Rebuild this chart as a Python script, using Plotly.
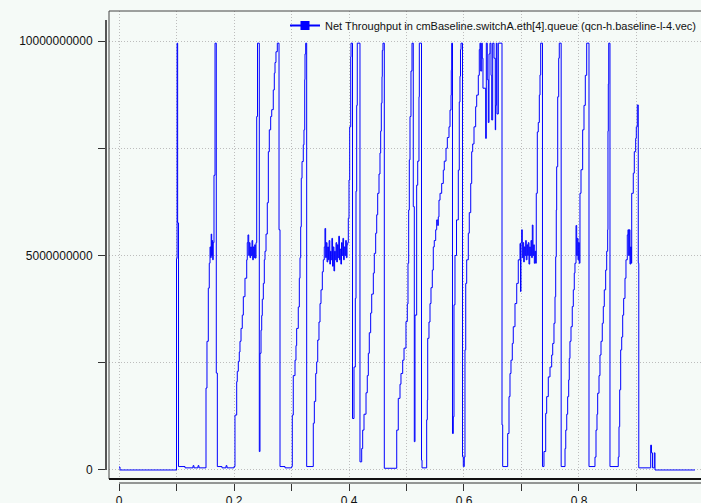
import plotly.graph_objects as go

# Net throughput samples of cmBaseline.switchA.eth[4].queue (time in s, rate in Gbit/s)
TIME_S = [
    0.0000, 0.0017, 0.1000, 0.1010, 0.1020, 0.1035,
    0.1148, 0.1287, 0.1304, 0.1374, 0.1391,
    # burst 2
    0.1513, 0.1530, 0.1553, 0.1570, 0.1583, 0.1595, 0.1603, 0.1612, 0.1621, 0.1630,
    0.1638, 0.1652, 0.1670, 0.1692, 0.1710,
    0.1791, 0.1861, 0.1878, 0.2000,
    # burst 3
    0.2017, 0.2047, 0.2057, 0.2075, 0.2092, 0.2104, 0.2122, 0.2144, 0.2162, 0.2191,
    0.2221, 0.2231, 0.2243, 0.2256, 0.2266, 0.2278, 0.2290, 0.2301, 0.2313, 0.2325,
    0.2336, 0.2348, 0.2360, 0.2370, 0.2383, 0.2395, 0.2409, 0.2440, 0.2452, 0.2470,
    0.2482, 0.2492, 0.2510, 0.2527, 0.2539, 0.2557, 0.2579, 0.2597, 0.2614, 0.2638,
    0.2656, 0.2683, 0.2701, 0.2713, 0.2730, 0.2753, 0.2783, 0.2800,
    0.2887, 0.3003,
    # burst 4
    0.3014, 0.3031, 0.3061, 0.3078, 0.3090, 0.3118, 0.3136, 0.3148, 0.3160, 0.3170,
    0.3183, 0.3205, 0.3217, 0.3230, 0.3235, 0.3247, 0.3264,
    # burst 5
    0.3379, 0.3397, 0.3421, 0.3438, 0.3456, 0.3478, 0.3496, 0.3513, 0.3536, 0.3553,
    0.3570, 0.3582, 0.3594, 0.3606, 0.3618, 0.3630, 0.3642, 0.3654, 0.3666, 0.3678,
    0.3690, 0.3702, 0.3714, 0.3726, 0.3738, 0.3750, 0.3762, 0.3774, 0.3786, 0.3798,
    0.3810, 0.3822, 0.3834, 0.3846, 0.3858, 0.3870, 0.3882, 0.3894, 0.3906, 0.3918,
    0.3930, 0.3942, 0.3954, 0.3966, 0.3978,
    0.3988, 0.4000, 0.4012, 0.4030, 0.4035, 0.4061, 0.4087, 0.4110, 0.4122, 0.4134,
    0.4144, 0.4191,
    # burst 6
    0.4221, 0.4238, 0.4261, 0.4296, 0.4318, 0.4336, 0.4353, 0.4377, 0.4395, 0.4423,
    0.4440, 0.4464, 0.4482, 0.4499, 0.4522, 0.4539, 0.4551, 0.4562, 0.4574, 0.4579,
    0.4591, 0.4614, 0.4713,
    # burst 7
    0.4830, 0.4857, 0.4887, 0.4904, 0.4934, 0.4957, 0.4991, 0.5014, 0.5026, 0.5038,
    0.5049, 0.5061, 0.5078, 0.5096, 0.5118, 0.5136, 0.5148, 0.5177, 0.5195, 0.5217,
    0.5223, 0.5261, 0.5270,
    # burst 8
    0.5351, 0.5362, 0.5369, 0.5391, 0.5409, 0.5426, 0.5449, 0.5466, 0.5483, 0.5508,
    0.5525, 0.5543, 0.5553, 0.5565, 0.5583, 0.5612, 0.5640, 0.5657, 0.5687, 0.5710,
    0.5739, 0.5757, 0.5774, 0.5779, 0.5786, 0.5800, 0.5814, 0.5826, 0.5843, 0.5870,
    0.5901, 0.5918, 0.5930, 0.5939, 0.5948, 0.5974, 0.5988,
    # burst 9
    0.6005, 0.6017, 0.6030, 0.6047, 0.6075, 0.6092, 0.6117, 0.6134, 0.6151, 0.6174,
    0.6203, 0.6221, 0.6249, 0.6266, 0.6278, 0.6290, 0.6308, 0.6318, 0.6330, 0.6377,
    0.6388, 0.6405, 0.6423, 0.6435, 0.6452, 0.6470, 0.6482, 0.6499, 0.6522, 0.6544,
    0.6551, 0.6562, 0.6574, 0.6597, 0.6661, 0.6673,
    # burst 10
    0.6760, 0.6783, 0.6800, 0.6817, 0.6840, 0.6857, 0.6887, 0.6917, 0.6944, 0.6974,
    0.6983, 0.6991, 0.7003, 0.7014, 0.7026, 0.7038, 0.7049, 0.7061, 0.7073, 0.7083,
    0.7096, 0.7108, 0.7118, 0.7130, 0.7143, 0.7153, 0.7165, 0.7177, 0.7188, 0.7200,
    0.7212, 0.7223, 0.7235, 0.7247, 0.7257, 0.7275, 0.7292, 0.7310, 0.7322, 0.7334,
    0.7365,
    # burst 11
    0.7391, 0.7421, 0.7438, 0.7466, 0.7496, 0.7525, 0.7543, 0.7565, 0.7583, 0.7595,
    0.7605, 0.7612, 0.7630, 0.7647, 0.7657, 0.7690,
    # burst 12
    0.7757, 0.7770, 0.7787, 0.7803, 0.7821, 0.7831, 0.7843, 0.7861, 0.7883, 0.7901,
    0.7918, 0.7930, 0.7948, 0.7960, 0.7970, 0.7983, 0.7995, 0.8005, 0.8017, 0.8035,
    0.8064, 0.8087, 0.8110, 0.8134, 0.8174,
    # burst 13
    0.8278, 0.8296, 0.8313, 0.8325, 0.8348, 0.8365, 0.8383, 0.8405, 0.8423, 0.8440,
    0.8464, 0.8482, 0.8499, 0.8504, 0.8510, 0.8517, 0.8539,
    # burst 14 and tail
    0.8683, 0.8696, 0.8708, 0.8725, 0.8743, 0.8760, 0.8777, 0.8800, 0.8817, 0.8840,
    0.8852, 0.8864, 0.8875, 0.8887, 0.8899, 0.8910, 0.8917, 0.8944, 0.8962, 0.8986,
    0.8997, 0.9014, 0.9031, 0.9040, 0.9247, 0.9261, 0.9278, 0.9310, 0.9322, 1.0017,
]

RATE_GBPS = [
    0.07, 0.00, 4.93, 9.95, 5.76, 0.08,
    0.05, 0.10, 0.05, 0.10, 0.05,
    # burst 2
    1.91, 3.00, 4.24, 4.82, 5.20, 4.95, 5.50, 5.00, 5.35, 4.90,
    5.30, 6.87, 9.95, 2.26, 0.08,
    0.05, 0.10, 0.05, 0.08,
    # burst 3
    1.28, 2.06, 2.30, 2.53, 2.75, 3.00, 3.30, 3.61, 4.04, 4.47,
    4.90, 5.30, 5.48, 5.00, 5.30, 4.95, 5.20, 5.00, 5.35, 4.90,
    5.20, 4.95, 5.25, 4.94, 5.30, 8.24, 9.95, 0.43, 2.72, 3.26,
    3.60, 3.98, 4.35, 4.90, 5.10, 5.50, 6.23, 7.42, 7.93, 8.24,
    8.40, 8.86, 9.25, 9.50, 9.75, 9.95, 5.60, 0.08,
    0.05, 0.08,
    # burst 4
    1.28, 2.20, 2.56, 2.90, 3.30, 3.80, 4.47, 4.95, 5.67, 6.80,
    7.19, 7.58, 7.93, 9.10, 9.70, 9.95, 0.08,
    # burst 5
    1.09, 1.60, 2.25, 2.52, 3.03, 3.45, 3.88, 4.20, 4.62, 4.90,
    5.20, 5.63, 4.95, 5.30, 4.85, 5.20, 4.90, 5.35, 4.80, 5.10,
    4.90, 5.40, 4.75, 5.20, 4.64, 5.10, 4.90, 5.30, 4.85, 5.25,
    4.95, 5.45, 4.90, 5.15, 4.80, 5.30, 5.00, 5.40, 4.90, 5.20,
    5.00, 5.35, 4.95, 5.25, 5.30,
    5.87, 6.76, 8.00, 9.63, 9.95, 1.20, 2.40, 4.00, 6.50, 8.50,
    9.95, 0.19,
    # burst 6
    0.50, 0.93, 1.30, 1.80, 2.20, 2.72, 3.20, 3.66, 4.10, 4.59,
    5.05, 5.52, 5.95, 6.45, 6.90, 7.39, 7.90, 8.55, 9.17, 9.78,
    9.95, 0.04, 0.04,
    # burst 7
    0.93, 1.67, 2.00, 2.25, 2.56, 2.84, 3.46, 3.87, 4.82, 6.06,
    7.23, 8.24, 9.30, 9.95, 6.14, 0.66, 3.61, 6.64, 7.20, 8.70,
    9.95, 0.23, 0.05,
    # burst 8
    1.17, 1.63, 3.07, 3.45, 3.88, 4.25, 4.66, 5.20, 5.35, 5.60,
    5.83, 5.70, 5.90, 6.29, 6.45, 6.68, 6.99, 7.20, 7.50, 7.75,
    8.00, 8.39, 8.74, 9.32, 9.95, 0.85, 1.24, 3.85, 5.00, 5.83,
    6.99, 8.58, 9.18, 9.80, 9.95, 0.31, 0.08,
    # burst 9
    0.30, 2.80, 4.35, 4.90, 5.52, 6.00, 6.68, 7.42, 7.60, 8.00,
    8.47, 8.74, 9.20, 9.80, 9.95, 9.30, 9.95, 9.60, 8.90, 7.73,
    9.95, 9.10, 8.10, 9.70, 9.95, 9.20, 8.16, 9.95, 9.60, 7.93,
    8.50, 9.95, 8.30, 9.95, 1.05, 0.08,
    # burst 10
    0.85, 1.71, 2.25, 2.56, 2.95, 3.34, 3.88, 4.35, 4.90, 5.28,
    4.16, 5.30, 5.60, 4.95, 5.30, 4.85, 5.20, 5.00, 5.35, 4.90,
    5.25, 5.00, 5.30, 4.80, 5.20, 5.00, 5.35, 4.95, 5.71, 5.00,
    5.25, 4.82, 5.10, 4.82, 6.45, 7.88, 8.10, 8.74, 9.21, 9.95,
    0.08,
    # burst 11
    0.43, 1.32, 1.71, 2.17, 2.40, 2.68, 2.95, 3.42, 4.04, 4.97,
    6.06, 7.07, 8.70, 9.60, 9.95, 0.08,
    # burst 12
    0.50, 0.93, 1.30, 1.71, 2.10, 2.60, 3.00, 3.34, 3.81, 4.20,
    4.59, 4.82, 5.70, 5.00, 5.40, 4.90, 5.30, 4.82, 6.45, 7.00,
    7.93, 8.50, 9.20, 9.95, 0.08,
    # burst 13
    0.30, 0.93, 1.30, 1.79, 2.20, 2.68, 3.00, 3.42, 3.81, 4.20,
    4.66, 5.10, 5.60, 7.90, 9.00, 9.95, 0.08,
    # burst 14 and tail
    0.30, 1.01, 1.87, 2.80, 3.10, 3.61, 4.00, 4.47, 4.90, 5.48,
    5.60, 5.00, 5.60, 4.80, 5.20, 4.82, 6.45, 6.92, 7.42, 7.73,
    8.00, 8.51, 4.82, 0.05, 0.58, 0.40, 0.05, 0.40, 0.00, 0.00,
]

assert len(TIME_S) == len(RATE_GBPS)

SERIES_NAME = "Net Throughput in cmBaseline.switchA.eth[4].queue (qcn-h.baseline-l-4.vec)"

X_TICKS = [0.0, 0.1, 0.2, 0.3, 0.4, 0.5, 0.6, 0.7, 0.8, 0.9]
X_TICK_TEXT = ["0", "", "0.2", "", "0.4", "", "0.6", "", "0.8", ""]
Y_TICKS = [0, 2.5e9, 5e9, 7.5e9, 1e10]
Y_TICK_TEXT = ["0", "", "5000000000", "", "10000000000"]

X_RANGE = [-0.0174, 1.0122]
Y_RANGE = [-0.21e9, 10.70e9]
Y_AXIS_TOP = 10.49e9

BG = "#f5faf7"
LINE_BLUE = "#0000ff"
GRID = "#bdbdbd"
FONT = "Liberation Sans, Arial, sans-serif"

W, H = 701, 503
ML, MR, MT, MB = 106, 0, 11, 20
X_DOM0 = 3 / (W - ML - MR)
Y_DOM0 = 4 / (H - MT - MB)

fig = go.Figure()

fig.add_trace(go.Scatter(
    x=TIME_S,
    y=[v * 1e9 for v in RATE_GBPS],
    mode="lines",
    line=dict(color=LINE_BLUE, width=1, shape="hv"),
    showlegend=False,
    hoverinfo="skip",
))

# legend entry (line with square marker)
fig.add_trace(go.Scatter(
    x=[None], y=[None],
    mode="lines+markers",
    name=SERIES_NAME,
    line=dict(color=LINE_BLUE, width=2),
    marker=dict(color=LINE_BLUE, symbol="square", size=9),
))

axis_common = dict(
    showline=False,
    zeroline=False,
    automargin=False,
    ticks="outside",
    tickcolor="#333333",
    tickwidth=1,
    showgrid=True,
    gridcolor=GRID,
    gridwidth=1,
    griddash="1px,2px",
    tickfont=dict(family=FONT, size=12, color="#111111"),
    tickmode="array",
)

fig.update_layout(
    width=W, height=H,
    margin=dict(l=ML, r=MR, t=MT, b=MB, pad=0, autoexpand=False),
    paper_bgcolor=BG,
    plot_bgcolor=BG,
    font=dict(family=FONT, size=11, color="#111111"),
    xaxis=dict(
        **axis_common,
        domain=[X_DOM0, 1],
        range=X_RANGE,
        tickvals=X_TICKS,
        ticktext=X_TICK_TEXT,
        ticklen=7,
        anchor="free",
        position=0,
    ),
    yaxis=dict(
        **axis_common,
        domain=[Y_DOM0, 1],
        range=Y_RANGE,
        tickvals=Y_TICKS,
        ticktext=Y_TICK_TEXT,
        ticklen=8,
        anchor="free",
        position=0,
        ticklabelstandoff=3,
    ),
    legend=dict(
        x=1, y=1, xanchor="right", yanchor="top",
        bgcolor="rgba(0,0,0,0)",
        font=dict(family=FONT, size=11, color="#111111"),
        itemwidth=30,
        borderwidth=0,
    ),
    shapes=[
        # plot frame
        dict(type="rect", xref="paper", yref="paper",
             x0=X_DOM0, x1=1.01, y0=Y_DOM0, y1=1,
             line=dict(color="#444444", width=1), layer="above"),
        dict(type="line", xref="paper", yref="paper",
             x0=X_DOM0, x1=1, y0=Y_DOM0, y1=Y_DOM0,
             line=dict(color="#111111", width=2), layer="above"),
        # detached x axis line
        dict(type="line", xref="x", yref="paper",
             x0=0, x1=X_RANGE[1], y0=0, y1=0,
             line=dict(color="#333333", width=1), layer="above"),
        # detached y axis line
        dict(type="line", xref="paper", yref="y",
             x0=0, x1=0, y0=0, y1=Y_AXIS_TOP,
             line=dict(color="#555555", width=2), layer="above"),
    ],
)

fig.write_html("out.html")
